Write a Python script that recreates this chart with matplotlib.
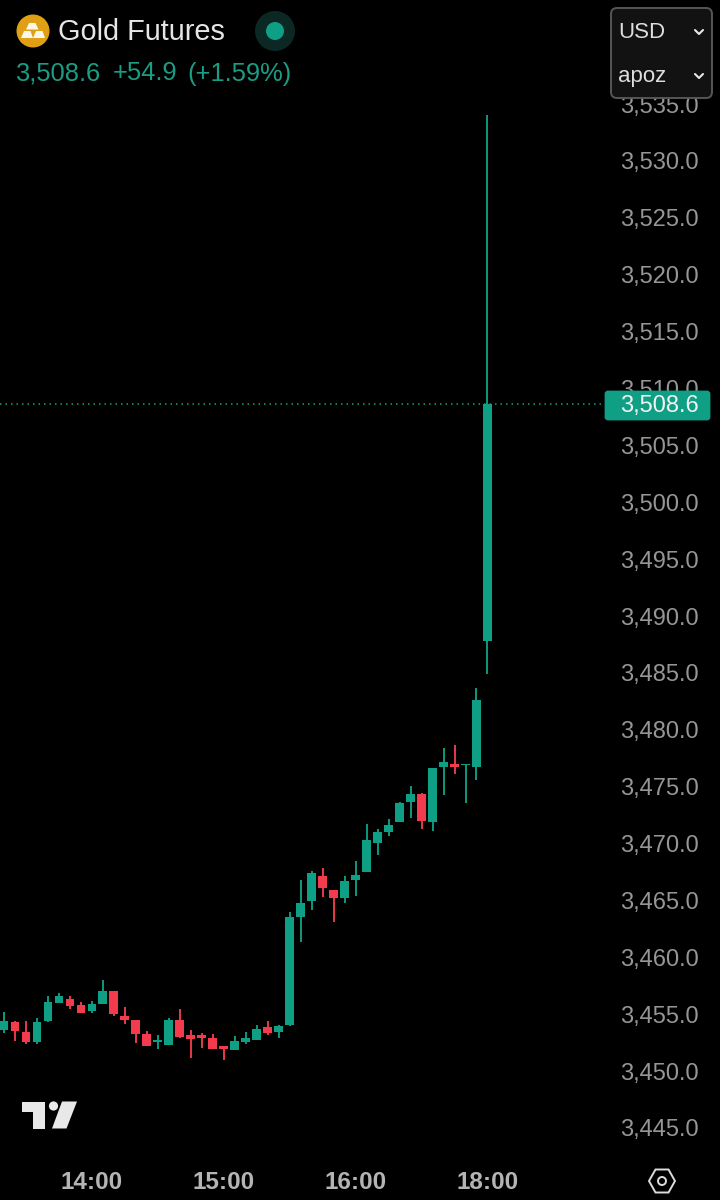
import matplotlib
matplotlib.use('Agg')
import matplotlib.pyplot as plt
from matplotlib.patches import Circle, FancyBboxPatch, Polygon

plt.rcParams['font.family'] = ['Liberation Sans', 'DejaVu Sans']

# candle values
opens = [3453.61, 3454.28, 3453.46, 3452.53, 3454.37, 3456.01, 3456.37, 3455.81, 3455.31,
         3455.87, 3457.07, 3454.87, 3454.46, 3453.26, 3452.53, 3452.29, 3454.46, 3453.14,
         3453.17, 3452.88, 3452.20, 3451.85, 3452.59, 3452.73, 3453.87, 3453.43, 3454.05,
         3463.52, 3464.95, 3467.15, 3465.89, 3465.24, 3466.77, 3467.47, 3470.05, 3471.05,
         3471.87, 3473.65, 3474.36, 3471.87, 3476.73, 3476.99, 3476.91, 3476.76, 3487.80]
highs = [3455.22, 3454.43, 3454.40, 3454.64, 3456.63, 3456.86, 3456.57, 3456.04, 3456.13,
         3458.00, 3457.07, 3455.66, 3454.46, 3453.49, 3453.17, 3454.64, 3455.46, 3453.61,
         3453.38, 3453.23, 3452.20, 3453.05, 3453.46, 3454.05, 3454.40, 3454.05, 3464.00,
         3466.80, 3467.59, 3467.82, 3465.89, 3467.15, 3468.47, 3471.69, 3471.28, 3472.16,
         3473.68, 3475.06, 3474.44, 3476.67, 3478.37, 3478.66, 3477.02, 3483.67, 3534.04]
lows = [3453.38, 3452.67, 3452.38, 3452.38, 3454.34, 3456.01, 3455.49, 3455.13, 3455.13,
        3455.87, 3454.87, 3454.11, 3452.50, 3452.20, 3451.91, 3452.29, 3452.94, 3451.18,
        3452.00, 3451.91, 3450.97, 3451.85, 3452.38, 3452.73, 3453.17, 3452.94, 3453.95,
        3461.35, 3464.19, 3465.30, 3463.10, 3464.78, 3465.39, 3467.47, 3469.00, 3470.69,
        3471.87, 3472.28, 3471.31, 3471.10, 3474.30, 3476.09, 3473.57, 3475.59, 3484.90]
closes = [3454.43, 3453.55, 3452.59, 3454.28, 3456.04, 3456.63, 3455.75, 3455.13, 3455.90,
          3457.07, 3455.05, 3454.49, 3453.23, 3452.20, 3452.70, 3454.46, 3453.00, 3452.85,
          3452.91, 3451.94, 3451.94, 3452.64, 3452.94, 3453.70, 3453.35, 3453.99, 3463.54,
          3464.75, 3467.38, 3466.06, 3465.24, 3466.68, 3467.27, 3470.28, 3470.99, 3471.66,
          3473.57, 3474.36, 3471.98, 3476.67, 3477.17, 3476.73, 3477.02, 3482.59, 3508.60]

price_ticks = [3445, 3450, 3455, 3460, 3465, 3470, 3475, 3480, 3485, 3490,
               3495, 3500, 3505, 3510, 3515, 3520, 3525, 3530, 3535]
time_ticks = [8, 20, 32, 44]
time_labels = ['14:00', '15:00', '16:00', '18:00']
last_price = 3508.6

GREEN = '#0e9f85'
RED = '#f23b4c'
BG = '#000000'

fig = plt.figure(figsize=(7.2, 12), dpi=100, facecolor=BG)

# main chart fills the whole figure, labels are pulled inside with negative pads
ax = fig.add_axes([0, 0, 1, 1], facecolor=BG)
ax.set_xlim(-0.364, 65.16)
ax.set_ylim(3438.67, 3544.15)
for side in ax.spines.values():
    side.set_visible(False)

xs = list(range(len(opens)))
colors = [GREEN if c >= o else RED for o, c in zip(opens, closes)]
ax.vlines(xs, lows, highs, colors=colors, linewidth=1.35, zorder=3)
ax.bar(xs, [c - o for o, c in zip(opens, closes)], bottom=opens, width=0.8,
       color=colors, linewidth=0, zorder=4)

ax.hlines(last_price, -0.364, 54.6, colors=GREEN, linewidth=1.1,
          linestyles=(0, (1, 2.6)), zorder=2)

ax.yaxis.tick_right()
ax.set_yticks(price_ticks)
ax.set_yticklabels(['{:,.1f}'.format(p) for p in price_ticks])
ax.tick_params(axis='y', length=0, pad=-72, labelsize=17, labelcolor='#969696')
ax.set_xticks(time_ticks)
ax.set_xticklabels(time_labels)
ax.tick_params(axis='x', length=0, pad=-21, labelsize=17.5, labelcolor='#b4b4b4')
for lab in ax.get_xticklabels():
    lab.set_fontweight('bold')

# overlay in pixel coordinates for the app furniture
ui = fig.add_axes([0, 0, 1, 1], facecolor='none')
ui.set_xlim(0, 720)
ui.set_ylim(1200, 0)
ui.axis('off')

# price tag
ui.add_patch(FancyBboxPatch((606, 392), 103, 27, boxstyle='round,pad=0,rounding_size=2',
                            mutation_aspect=1, facecolor=GREEN, edgecolor=GREEN, linewidth=2))
ui.text(620, 406, '{:,.1f}'.format(last_price), color='#f2f2f2', fontsize=17,
        ha='left', va='center')

# header
ui.add_patch(Circle((33, 31), 16.5, facecolor='#dfa016', edgecolor='none'))
for bar in ([(29, 23), (35.5, 23), (38.5, 29.5), (26, 29.5)],
            [(24, 31), (30.5, 31), (33, 38), (21, 38)],
            [(36, 31), (42.5, 31), (45, 38), (33, 38)]):
    ui.add_patch(Polygon(bar, closed=True, facecolor='#fbf6ea', edgecolor='none'))
ui.text(58, 32.5, 'Gold Futures', color='#e6e6e6', fontsize=20.8, ha='left', va='center')
ui.add_patch(Circle((275, 31), 20, facecolor='#0c2825', edgecolor='none'))
ui.add_patch(Circle((275, 31), 9, facecolor=GREEN, edgecolor='none'))
ui.text(15, 73.5, '3,508.6', color='#1b9c84', fontsize=18.4, ha='left', va='center')
ui.text(113, 73.5, '+54.9', color='#1b9c84', fontsize=18.4, ha='left', va='center')
ui.text(187, 73.5, '(+1.59%)', color='#1b9c84', fontsize=18.4, ha='left', va='center')

# currency / unit panel
ui.add_patch(FancyBboxPatch((611, 8), 101, 90, boxstyle='round,pad=0,rounding_size=6',
                            facecolor='#121212', edgecolor='#565656', linewidth=1.4))
ui.text(618, 32.5, 'USD', color='#dedede', fontsize=16, ha='left', va='center')
ui.text(618, 76.5, 'apoz', color='#dedede', fontsize=16, ha='left', va='center')
for cy in (32, 76):
    ui.plot([695, 699, 703], [cy - 2, cy + 2, cy - 2], color='#e6e6e6', linewidth=1.5,
            solid_capstyle='round', solid_joinstyle='round')

# TradingView logo
logo = '#e8e8e8'
ui.add_patch(Polygon([(22, 1101.5), (44.5, 1101.5), (44.5, 1128.5), (32.5, 1128.5),
                      (32.5, 1111.5), (22, 1111.5)], closed=True, facecolor=logo, edgecolor='none'))
ui.add_patch(Circle((53.5, 1106), 4.6, facecolor=logo, edgecolor='none'))
ui.add_patch(Polygon([(62, 1101.5), (77, 1101.5), (66.5, 1128.5), (52, 1128.5)],
                     closed=True, facecolor=logo, edgecolor='none'))

# settings hexagon
ui.add_patch(Polygon([(649, 1181), (655.5, 1169.5), (668.5, 1169.5), (675, 1181),
                      (668.5, 1192.5), (655.5, 1192.5)], closed=True, facecolor='none',
                     edgecolor='#dcdcdc', linewidth=1.4))
ui.add_patch(Circle((662, 1181), 4, facecolor='none', edgecolor='#dcdcdc', linewidth=1.4))

fig.savefig('out.png', dpi=100, facecolor=BG)
